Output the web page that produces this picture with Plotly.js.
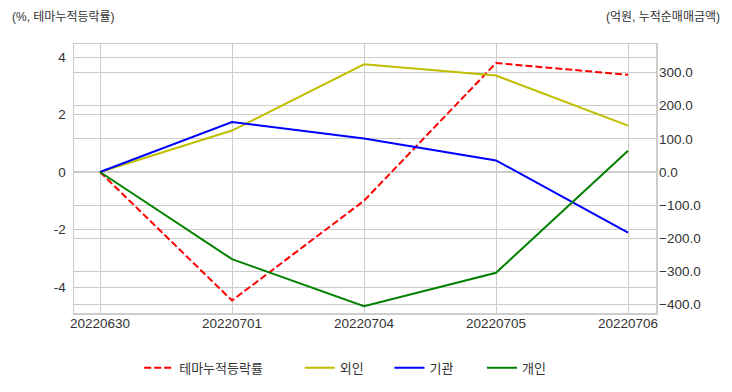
<!DOCTYPE html>
<html>
<head>
<meta charset="utf-8">
<script src="https://cdn.plot.ly/plotly-3.0.1.min.js"></script>
<style>html,body{margin:0;padding:0;background:#fff;}#chart{width:732px;height:392px;}</style>
</head>
<body>
<div id="chart"></div>
<script>
const dates = ["20220630", "20220701", "20220704", "20220705", "20220706"];
const themeReturn = [0, -4.47, -1.0, 3.79, 3.38];      // %, left axis
const foreign = [0, 125, 325, 291, 140];              // 억원, right axis
const institution = [0, 151, 101, 35, -183];          // 억원, right axis
const individual = [0, -263, -405, -304, 64];         // 억원, right axis
const names = ["테마누적등락률", "외인", "기관", "개인"];
const leftTicks = [-4, -2, 0, 2, 4];
const rightTicks = [-400, -300, -200, -100, 0, 100, 200, 300];

const FONT = "Liberation Sans, Arial, 'Noto Sans CJK KR', sans-serif";
const GRID = "#cccccc";
const TXT = "#333333";

const traces = [
  {x: dates, y: themeReturn, name: names[0], type: "scatter", mode: "lines",
   line: {color: "#ff0000", width: 2, dash: "7px,3px"}, yaxis: "y", legend: "legend"},
  {x: dates, y: foreign, name: names[1], type: "scatter", mode: "lines",
   line: {color: "#bfbf00", width: 2}, yaxis: "y2", legend: "legend2"},
  {x: dates, y: institution, name: names[2], type: "scatter", mode: "lines",
   line: {color: "#0000ff", width: 2}, yaxis: "y2", legend: "legend3"},
  {x: dates, y: individual, name: names[3], type: "scatter", mode: "lines",
   line: {color: "#008000", width: 2}, yaxis: "y2", legend: "legend4"}
];

function leg(x) {
  return {orientation: "h", x: x, xanchor: "left", y: -0.148, yanchor: "top",
          bgcolor: "rgba(0,0,0,0)", font: {family: FONT, size: 13, color: TXT}};
}

const layout = {
  width: 732, height: 392,
  margin: {l: 74, r: 76, t: 44, b: 79, pad: 0, autoexpand: false},
  paper_bgcolor: "#ffffff", plot_bgcolor: "#ffffff",
  font: {family: FONT, size: 13.5, color: TXT},
  showlegend: true,
  xaxis: {type: "category", range: [-0.197, 4.212], showgrid: true, gridcolor: GRID, gridwidth: 1,
          showline: true, linecolor: GRID, linewidth: 1.5, mirror: true, ticks: "", zeroline: false,
          automargin: false, ticklabelstandoff: -3,
          tickfont: {family: FONT, size: 13.5, color: TXT}, fixedrange: true},
  yaxis: {range: [-4.904, 4.452], tickvals: leftTicks, ticktext: leftTicks.map(String),
          showgrid: true, gridcolor: GRID, gridwidth: 1, zeroline: false, automargin: false,
          showline: true, linecolor: GRID, linewidth: 1.5, mirror: true, ticks: "",
          ticklabelstandoff: 4, tickfont: {family: FONT, size: 13.5, color: TXT}},
  yaxis2: {overlaying: "y", side: "right", range: [-425.5, 386.2], tickvals: rightTicks,
           tickformat: ".1f", showgrid: true, gridcolor: GRID, gridwidth: 1, zeroline: false,
           showline: false, ticks: "", ticklabelstandoff: 2, automargin: false,
           tickfont: {family: FONT, size: 13.5, color: TXT}},
  legend: leg(0.112),
  legend2: leg(0.388),
  legend3: leg(0.542),
  legend4: leg(0.701),
  annotations: [
    {text: "(%, 테마누적등락률)", xref: "paper", yref: "paper", x: -0.11, y: 1.1,
     xanchor: "left", yanchor: "middle", showarrow: false,
     font: {family: FONT, size: 12, color: TXT}},
    {text: "(억원, 누적순매매금액)", xref: "paper", yref: "paper", x: 1.113, y: 1.1,
     xanchor: "right", yanchor: "middle", showarrow: false,
     font: {family: FONT, size: 12, color: TXT}}
  ]
};

Plotly.newPlot("chart", traces, layout, {displayModeBar: false, staticPlot: true});
</script>
</body>
</html>
